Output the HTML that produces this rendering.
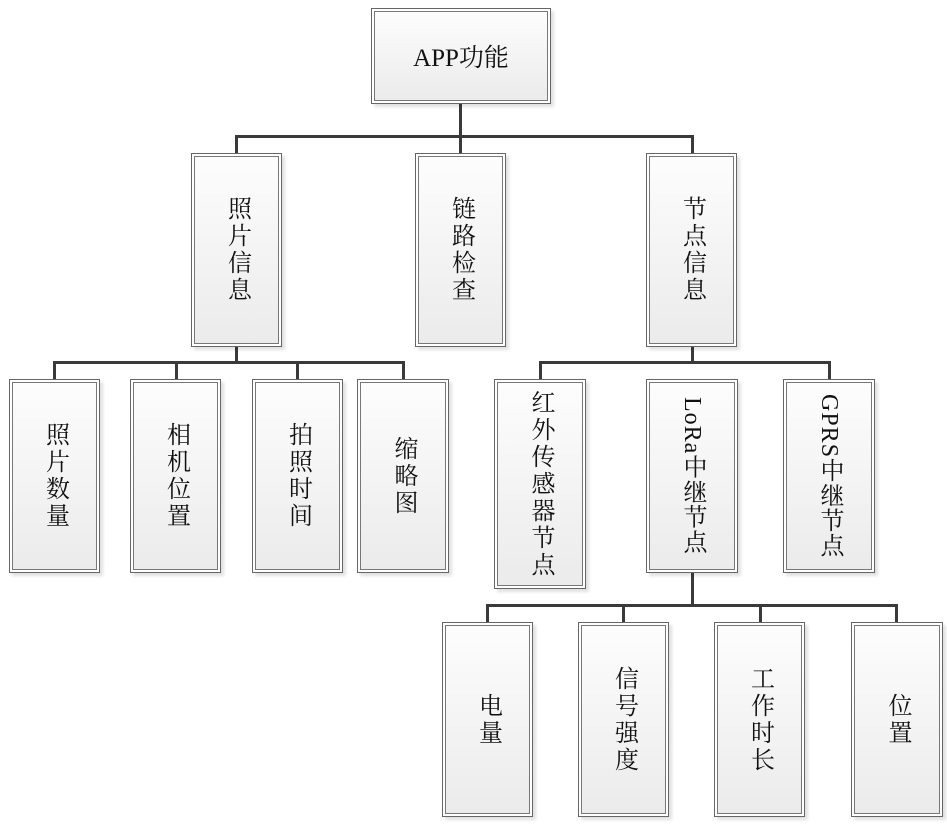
<!DOCTYPE html>
<html><head><meta charset="utf-8"><style>
html,body{margin:0;padding:0;background:#fff;width:947px;height:825px;overflow:hidden;position:relative}
.b{position:absolute;box-sizing:border-box;border:1.5px solid #666;background:#fff;box-shadow:3px 3px 3px rgba(0,0,0,0.12)}
.b>div{position:absolute;left:2px;top:2px;right:2px;bottom:2px;border:1.5px solid #777;background:linear-gradient(#fdfdfd,#ebebeb);display:flex;align-items:center;justify-content:center}
.t{writing-mode:vertical-rl;white-space:nowrap;font-family:"Liberation Serif","Noto Serif CJK SC",serif;font-size:24px;letter-spacing:3px;color:#111;line-height:1}
.h{font-family:"Liberation Serif","Noto Serif CJK SC",serif;font-size:25px;color:#111}
.l{position:absolute;background:#3a3a3a}
</style></head><body>
<div class="l" style="left:459px;top:104px;width:3px;height:50px"></div>
<div class="l" style="left:235px;top:135px;width:458px;height:3px"></div>
<div class="l" style="left:235px;top:135px;width:3px;height:18px"></div>
<div class="l" style="left:691px;top:135px;width:3px;height:18px"></div>
<div class="l" style="left:235px;top:347px;width:3px;height:16px"></div>
<div class="l" style="left:53px;top:361px;width:352px;height:3px"></div>
<div class="l" style="left:53px;top:361px;width:3px;height:18px"></div>
<div class="l" style="left:175px;top:361px;width:3px;height:18px"></div>
<div class="l" style="left:296px;top:361px;width:3px;height:18px"></div>
<div class="l" style="left:402px;top:361px;width:3px;height:18px"></div>
<div class="l" style="left:691px;top:347px;width:3px;height:16px"></div>
<div class="l" style="left:539px;top:361px;width:291px;height:3px"></div>
<div class="l" style="left:539px;top:361px;width:3px;height:18px"></div>
<div class="l" style="left:828px;top:361px;width:3px;height:18px"></div>
<div class="l" style="left:691px;top:573px;width:3px;height:33px"></div>
<div class="l" style="left:486px;top:604px;width:412px;height:3px"></div>
<div class="l" style="left:486px;top:604px;width:3px;height:18px"></div>
<div class="l" style="left:622px;top:604px;width:3px;height:18px"></div>
<div class="l" style="left:759px;top:604px;width:3px;height:18px"></div>
<div class="l" style="left:895px;top:604px;width:3px;height:18px"></div>
<div class="b" style="left:371px;top:8px;width:180px;height:96px"><div><span class="h">APP功能</span></div></div>
<div class="b" style="left:191px;top:153px;width:91px;height:194px"><div><span class="t">照片信息</span></div></div>
<div class="b" style="left:415px;top:153px;width:91px;height:194px"><div><span class="t">链路检查</span></div></div>
<div class="b" style="left:646px;top:153px;width:91px;height:194px"><div><span class="t">节点信息</span></div></div>
<div class="b" style="left:9px;top:379px;width:91px;height:194px"><div><span class="t">照片数量</span></div></div>
<div class="b" style="left:130px;top:379px;width:91px;height:194px"><div><span class="t">相机位置</span></div></div>
<div class="b" style="left:252px;top:379px;width:91px;height:194px"><div><span class="t">拍照时间</span></div></div>
<div class="b" style="left:357px;top:379px;width:92px;height:194px"><div><span class="t">缩略图</span></div></div>
<div class="b" style="left:494px;top:379px;width:92px;height:210px"><div><span class="t">红外传感器节点</span></div></div>
<div class="b" style="left:646px;top:379px;width:92px;height:194px"><div><span class="t" style="letter-spacing:1px">LoRa中继节点</span></div></div>
<div class="b" style="left:783px;top:379px;width:92px;height:194px"><div><span class="t" style="letter-spacing:1px">GPRS中继节点</span></div></div>
<div class="b" style="left:442px;top:622px;width:91px;height:195px"><div><span class="t">电量</span></div></div>
<div class="b" style="left:578px;top:622px;width:91px;height:195px"><div><span class="t">信号强度</span></div></div>
<div class="b" style="left:714px;top:622px;width:91px;height:195px"><div><span class="t">工作时长</span></div></div>
<div class="b" style="left:851px;top:622px;width:92px;height:195px"><div><span class="t">位置</span></div></div>
</body></html>
